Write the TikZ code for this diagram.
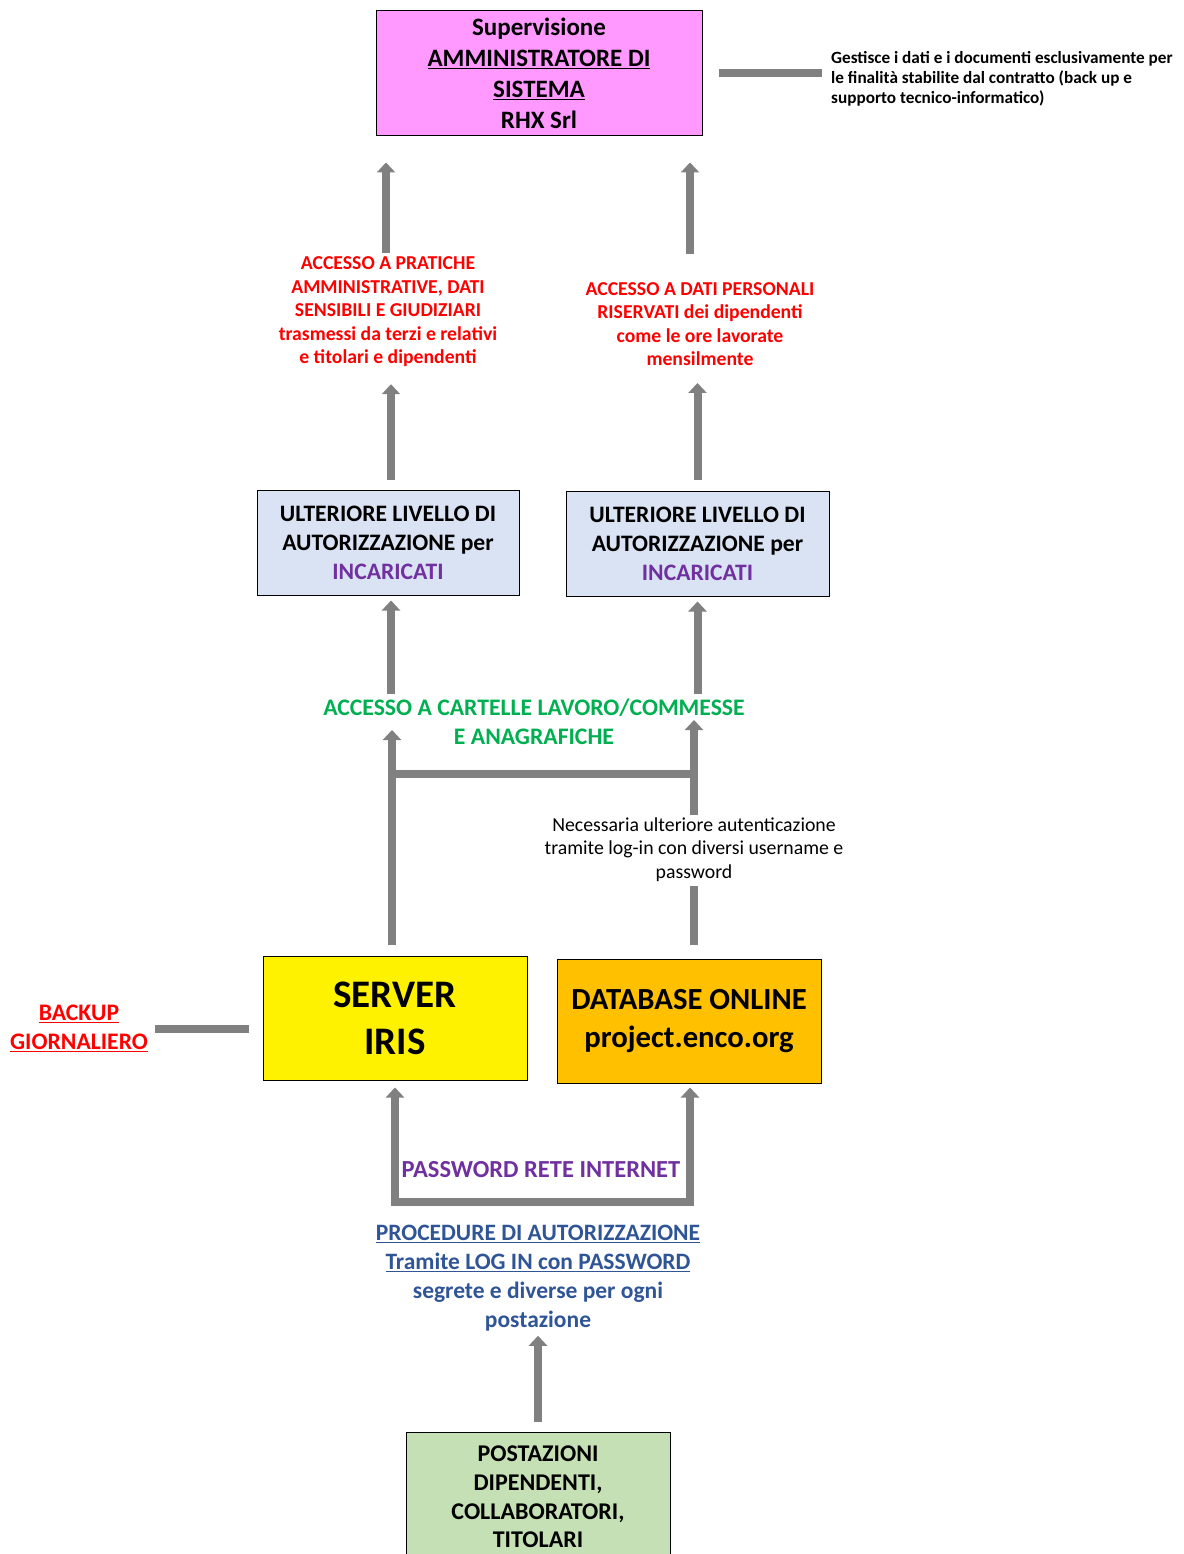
\documentclass[tikz,border=0pt]{standalone}
\usepackage{fontspec}
\setmainfont{Carlito}
\usetikzlibrary{arrows.meta}

\definecolor{boxPink}{HTML}{FF99FF}
\definecolor{boxBlue}{HTML}{DAE3F3}
\definecolor{boxGreen}{HTML}{C5E0B4}
\definecolor{boxOrange}{HTML}{FFC000}
\definecolor{barGray}{HTML}{808080}
\definecolor{txtPurple}{HTML}{7030A0}
\definecolor{txtGreen}{HTML}{00B050}
\definecolor{txtBlue}{HTML}{2F5597}

\def \barWidth {8pt}
\newcommand{\fsize}[2]{\fontsize{#1}{#2}\selectfont}

\begin{document}
\begin{tikzpicture}[x=1pt, y=-1pt,
      bar/.style={draw=barGray, line width=\barWidth},
      arw/.style={bar, -{Triangle[width=18pt,length=10pt]}},
      box/.style={draw=black, line width=1pt, align=center, inner sep=0pt},
      lbl/.style={align=center, inner sep=0pt}]
   \useasboundingbox (0, 0) rectangle (1183, 1554);

   % boxes
   \node[box, fill=boxPink, minimum width=326pt, minimum height=125pt, font=\bfseries\fsize{25}{31}] (sup) at (539, 73.5)
      {Supervisione\\\underline{AMMINISTRATORE DI}\\\underline{SISTEMA}\\RHX Srl};
   \node[box, fill=boxBlue, minimum width=262pt, minimum height=105pt, font=\bfseries\fsize{23.6}{29}] (ultA) at (388, 542.5)
      {ULTERIORE LIVELLO DI\\AUTORIZZAZIONE per\\\textcolor{txtPurple}{INCARICATI}};
   \node[box, fill=boxBlue, minimum width=263pt, minimum height=105pt, font=\bfseries\fsize{23.6}{29}] (ultB) at (697.5, 543.5)
      {ULTERIORE LIVELLO DI\\AUTORIZZAZIONE per\\\textcolor{txtPurple}{INCARICATI}};
   \node[box, fill=yellow, minimum width=264pt, minimum height=124pt, font=\bfseries\fsize{39}{47}] (server) at (395, 1018)
      {SERVER\\IRIS};
   \node[box, fill=boxOrange, minimum width=264pt, minimum height=124pt, font=\bfseries\fsize{30.7}{38}] (database) at (689, 1021)
      {DATABASE ONLINE\\project.enco.org};
   \node[box, fill=boxGreen, minimum width=264pt, minimum height=130pt, font=\bfseries\fsize{24}{28.7}] (postazioni) at (538, 1497)
      {POSTAZIONI\\DIPENDENTI,\\COLLABORATORI,\\TITOLARI};

   % labels
   \node[lbl, anchor=west, align=left, font=\bfseries\fsize{17.2}{20}] (gestione) at (831, 79)
      {Gestisce i dati e i documenti esclusivamente per\\le finalità stabilite dal contratto (back up e\\supporto tecnico-informatico)};
   \node[lbl, text=red, font=\bfseries\fsize{19.7}{23.5}] (pratiche) at (388, 312)
      {ACCESSO A PRATICHE\\AMMINISTRATIVE, DATI\\SENSIBILI E GIUDIZIARI\\trasmessi da terzi e relativi\\e titolari e dipendenti};
   \node[lbl, text=red, font=\bfseries\fsize{19.7}{23.5}] (personali) at (700, 324)
      {ACCESSO A DATI PERSONALI\\RISERVATI dei dipendenti\\come le ore lavorate\\mensilmente};
   \node[lbl, text=txtGreen, font=\bfseries\fsize{23.7}{29}] (cartelle) at (534, 721.5)
      {ACCESSO A CARTELLE LAVORO/COMMESSE\\E ANAGRAFICHE};
   \node[lbl, font=\fsize{19.8}{23.5}] (login) at (694, 849.5)
      {Necessaria ulteriore autenticazione\\tramite log-in con diversi username e\\password};
   \node[lbl, text=red, font=\bfseries\fsize{23.7}{29}] (backup) at (79, 1028.5)
      {\underline{BACKUP}\\\underline{GIORNALIERO}};
   \node[lbl, text=txtPurple, font=\bfseries\fsize{24.5}{29}] (rete) at (541, 1170)
      {PASSWORD RETE INTERNET};
   \node[lbl, text=txtBlue, font=\bfseries\fsize{23.5}{29}] (procedure) at (538, 1278.5)
      {\underline{PROCEDURE DI AUTORIZZAZIONE}\\\underline{Tramite LOG IN con PASSWORD}\\segrete e diverse per ogni\\postazione};

   % free ends
   \coordinate (tipL) at (392, 730);
   \coordinate (tipR) at (694, 720);
   \coordinate (hubL) at (392, 774);
   \coordinate (hubR) at (694, 774);
   \coordinate (baseL) at (395, 1202);
   \coordinate (baseR) at (690, 1202);

   % connectors
   \draw[bar, shorten <=16pt, shorten >=9pt] (sup.east) -- (sup.east -| gestione.west);
   \draw[arw, shorten <=4pt, shorten >=26pt] ([xshift=-2pt]pratiche.north) -- ([xshift=-2pt]pratiche.north |- sup.south);
   \draw[arw, shorten <=28pt, shorten >=26pt] ([xshift=-10pt]personali.north) -- ([xshift=-10pt]personali.north |- sup.south);
   \draw[arw, shorten <=10pt, shorten >=17pt] ([xshift=3pt]ultA.north) -- ([xshift=3pt]ultA.north |- pratiche.south);
   \draw[arw, shorten <=11pt, shorten >=17pt] (ultB.north) -- (ultB.north |- personali.south);
   \draw[arw, shorten <=4pt, shorten >=5pt] ([xshift=3pt]ultA.south |- cartelle.north) -- ([xshift=3pt]ultA.south);
   \draw[arw, shorten <=4pt, shorten >=5pt] (ultB.south |- cartelle.north) -- (ultB.south);
   \draw[arw, shorten <=11pt] (server.north -| tipL) -- (tipL);
   \draw[bar] (hubL) -- (hubR);
   \draw[bar, shorten <=14pt, shorten >=4pt] (database.north -| tipR) -- (login.south -| tipR);
   \draw[arw, shorten <=2pt] (login.north -| tipR) -- (tipR);
   \draw[bar, shorten <=7pt, shorten >=14pt] (backup.east) -- (backup.east -| server.west);
   \draw[bar, line join=miter, {Triangle[width=18pt,length=10pt]}-{Triangle[width=18pt,length=10pt]}, shorten <=7pt, shorten >=4pt]
      (server.south -| baseL) -- (baseL) -- (baseR) -- (database.south -| baseR);
   \draw[arw, shorten <=10pt, shorten >=4pt] (postazioni.north) -- (postazioni.north |- procedure.south);
\end{tikzpicture}
\end{document}
